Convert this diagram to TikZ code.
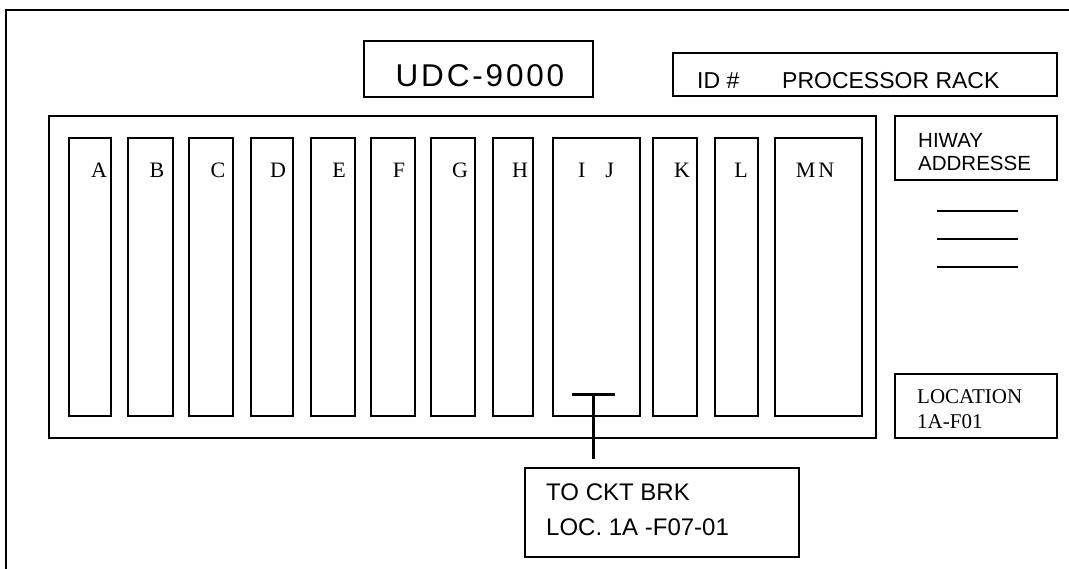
\documentclass[tikz,border=0pt]{standalone}
\usepackage{fontspec}
\setmainfont{Liberation Serif}
\setsansfont{Liberation Sans}
\newfontfamily\udcfont[LetterSpace=9]{Liberation Sans}
\tikzset{
  box/.style={rectangle,draw,line width=1.2pt,inner sep=0pt,outer sep=0pt},
  slot/.style={box,minimum height=278pt},
  frame/.style={line width=1.6pt},
  tee/.style={line width=3pt},
  txt/.style={anchor=base west,inner sep=0pt},
  arial/.style={txt,font=\sffamily\fontsize{#1}{#1}\selectfont},
  times/.style={txt,font=\rmfamily\fontsize{#1}{#1}\selectfont},
  slotlab/.style={anchor=base,inner sep=0pt,font=\rmfamily\fontsize{22}{22}\selectfont}
}
\begin{document}
\begin{tikzpicture}[x=1pt,y=-1pt]
  \useasboundingbox (0,0) rectangle (1069,568);
  % sheet edge
  \draw[frame] (1080,10) -- (6,10) -- (6,580);
  % title boxes
  \node[box,minimum width=229pt,minimum height=56pt] (udc) at (478.5,69) {};
  \node[anchor=base,inner sep=0pt,font=\udcfont\fontsize{31.5}{31.5}\selectfont] (udctxt) at (480,86) {UDC-9000};
  \node[box,minimum width=384pt,minimum height=43pt] (rackid) at (865,74.5) {};
  \node[arial=23] (idtxt) at (697,88) {ID \#};
  \node[arial=23] (proctxt) at (782,88) {PROCESSOR RACK};
  % rack with card slots
  \node[box,minimum width=827pt,minimum height=322pt] (rack) at (462.5,277) {};
  \foreach \nm/\xa/\xb/\xt/\lab in {A/69/111/99/A, B/128/173/157/B, C/189/233/218/C,
      D/251/293/278/D, E/311/355/339/E, F/371/415/399/F, G/431/475/460/G,
      H/493/533/520/H, IJ/553/640/596/I\hspace{20pt}J, K/653/697/682/K,
      L/715/758/741/L, MN/775/862/815/M\kern3pt N}{
    \pgfmathsetmacro{\slotw}{\xb-\xa}
    \pgfmathsetmacro{\slotx}{(\xa+\xb)/2}
    \node[slot,minimum width=\slotw pt] (slot\nm) at (\slotx,277) {};
    \node[slotlab] (lab\nm) at (\xt,177) {\lab};
  }
  % hiway address
  \node[box,minimum width=162pt,minimum height=64pt] (hiway) at (976,148) {};
  \node[arial=20.5] (hiwaytxt) at (918,147) {HIWAY};
  \node[arial=20.5] (addrtxt) at (918,170) {ADDRESSE};
  \foreach \yy in {211,239,267}{
    \draw[line width=1.2pt] (937,\yy) -- (1018,\yy);
  }
  % location
  \node[box,minimum width=162pt,minimum height=64pt] (loc) at (976,406) {};
  \node[times=21] (loctxt) at (917,403) {LOCATION};
  \node[times=21] (locnum) at (917,428) {1A-F01};
  % breaker feed
  \node[box,minimum width=274pt,minimum height=89pt] (ckt) at (662,512.5) {};
  \node[arial=24] (ckttxt) at (546,500) {TO CKT BRK};
  \node[arial=24] (cktloc) at (546,535) {LOC. 1A -F07-01};
  \coordinate (tee) at (593,394);
  \draw[tee] (572,394) -- (615,394);
  \draw[tee,shorten <=9pt] (ckt.north -| tee) -- (tee);
\end{tikzpicture}
\end{document}
